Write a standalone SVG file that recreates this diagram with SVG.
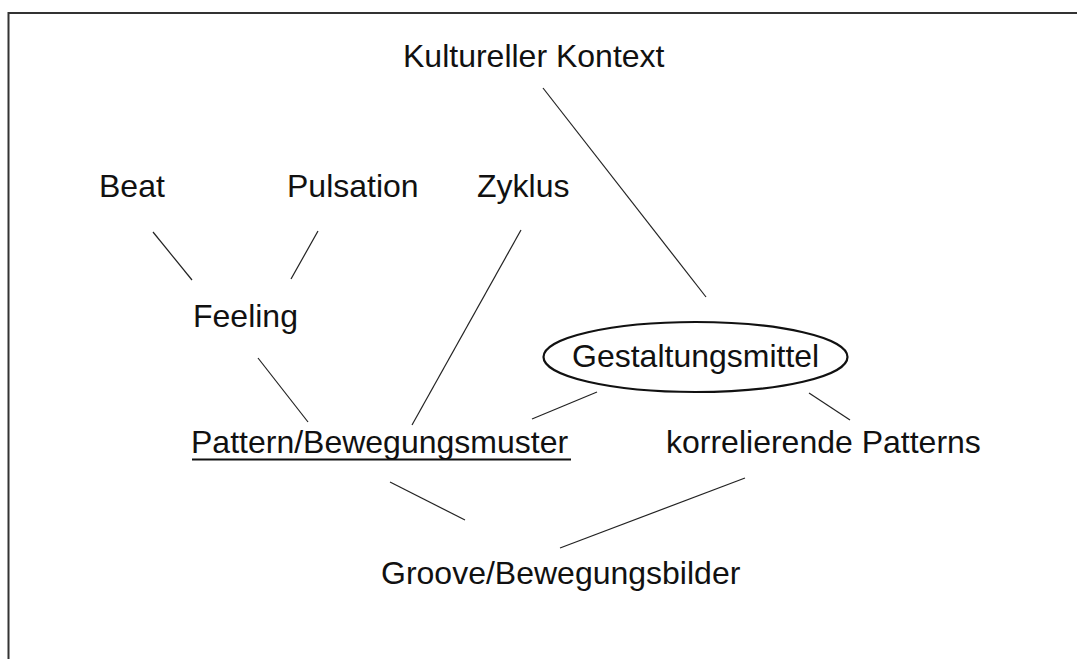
<svg xmlns="http://www.w3.org/2000/svg" width="1077" height="659" viewBox="0 0 1077 659">
<style>
text{font-family:"Liberation Sans",Arial,sans-serif;font-size:32px;fill:#111}
.c line{stroke:#222;stroke-width:1.2}
</style>
<rect x="0" y="0" width="1077" height="659" fill="#fff"/>
<rect x="8.5" y="13" width="1100" height="700" fill="none" stroke="#333" stroke-width="2"/>
<g class="c" id="connectors">
<line x1="543" y1="88" x2="706" y2="297"/>
<line x1="153" y1="232" x2="192" y2="280"/>
<line x1="318" y1="231" x2="291" y2="279"/>
<line x1="521" y1="230" x2="412" y2="425"/>
<line x1="258" y1="358" x2="308" y2="422"/>
<line x1="597" y1="392" x2="532" y2="419"/>
<line x1="809" y1="393" x2="850" y2="420"/>
<line x1="390" y1="482" x2="465" y2="520"/>
<line x1="745" y1="478" x2="560" y2="548"/>
</g>
<g id="kontext"><text x="403" y="67">Kultureller Kontext</text></g>
<g id="beat"><text x="99" y="197">Beat</text></g>
<g id="pulsation"><text x="287" y="197">Pulsation</text></g>
<g id="zyklus"><text x="477" y="197">Zyklus</text></g>
<g id="feeling"><text x="193" y="327">Feeling</text></g>
<g id="gestaltungsmittel">
<ellipse cx="695.5" cy="357" rx="152" ry="35" fill="none" stroke="#111" stroke-width="2.2"/>
<text x="572" y="367">Gestaltungsmittel</text>
</g>
<g id="pattern">
<text x="191" y="453">Pattern/Bewegungsmuster</text>
<line x1="192" y1="459.5" x2="571" y2="459.5" stroke="#111" stroke-width="2.2"/>
</g>
<g id="korrelierende"><text x="666" y="453">korrelierende Patterns</text></g>
<g id="groove"><text x="381" y="584">Groove/Bewegungsbilder</text></g>
</svg>
